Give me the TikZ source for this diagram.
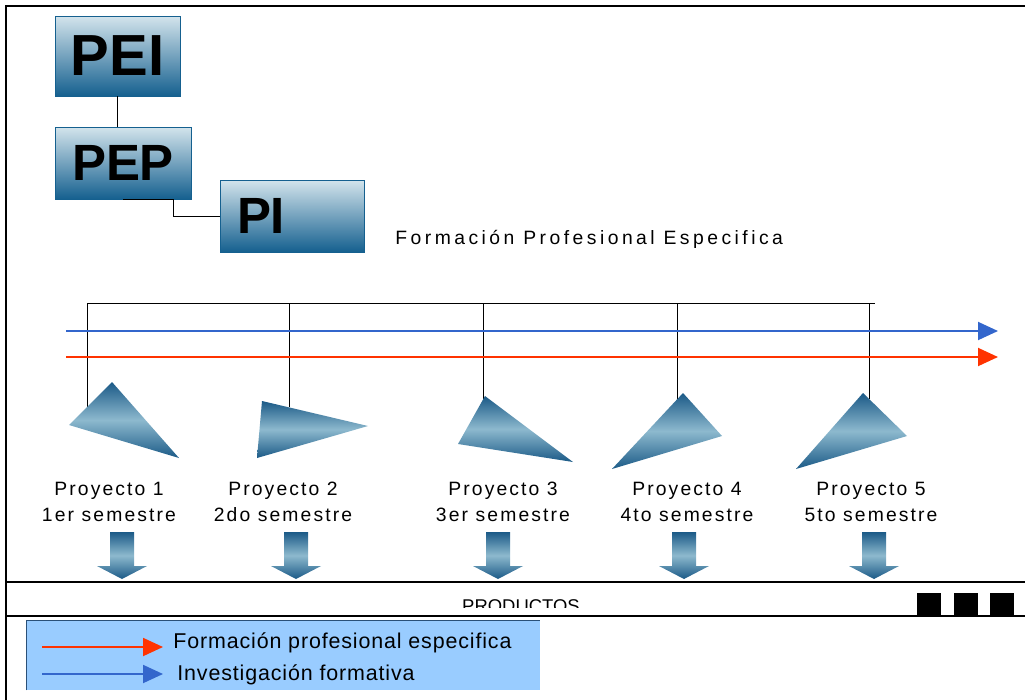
\documentclass[tikz,border=0pt]{standalone}
\usepackage{fontspec}
\setmainfont{Liberation Sans}
\newfontfamily\wideface[LetterSpace=11]{Liberation Sans}
\newfontfamily\headface[LetterSpace=18]{Liberation Sans}
\newfontfamily\legface[LetterSpace=4]{Liberation Sans}
\usetikzlibrary{arrows.meta,positioning}
\definecolor{boxdark}{HTML}{15608F}
\definecolor{boxlight}{HTML}{D3E4EC}
\definecolor{tridark}{HTML}{1B5A87}
\definecolor{trilight}{HTML}{8DB9CE}
\definecolor{blueline}{HTML}{3366CC}
\definecolor{redline}{HTML}{FF3300}
\definecolor{legendfill}{HTML}{99CCFF}
\definecolor{legendedge}{HTML}{2A5078}
\tikzset{
  plan/.style={rectangle, draw=boxdark, line width=0.5pt, top color=boxlight, bottom color=boxdark},
  tri/.style={top color=tridark, bottom color=tridark, middle color=trilight},
  proj/.style={align=center, font=\wideface\fontsize{11}{14.5}\selectfont},
  tline/.style={line width=1.1pt, -{Triangle[length=0.4cm,width=0.36cm]}},
  frame/.style={line width=1.1pt},
}
\begin{document}
\begin{tikzpicture}[x=0.02cm, y=-0.02cm]
\useasboundingbox (0,0) rectangle (1025,700);
\draw[frame] (6,700) -- (6,6) -- (1025,6);
\draw[frame] (6,582) -- (1025,582); \draw[frame] (6,616) -- (1025,616);
% plan boxes
\node[plan, minimum width=2.5cm, minimum height=1.6cm, font=\bfseries\fontsize{33}{33}\selectfont] (PEI) at (117.5,56) {PEI};
\node[plan, minimum width=2.72cm, minimum height=1.44cm, font=\bfseries\fontsize{29}{29}\selectfont] (PEP) at (123,163) {PEP};
\node[plan, minimum height=1.44cm, text width=2.2cm, inner xsep=0.34cm, align=left, font=\bfseries\fontsize{29}{29}\selectfont] (PI) at (292,216) {PI};
\coordinate (bend) at (173,216);
\draw (PEI.south) -- (PEI.south |- PEP.north);
\draw (PEP.south) -- (PEP.south -| bend) -- (bend) -- (PI.west);
\node[anchor=base west, inner sep=0, font=\headface\fontsize{11}{13}\selectfont] (head) at (395,244) {Formación Profesional Especifica};
% tree
\coordinate (barw) at (87,303); \coordinate (bare) at (875,303);
\coordinate (p1) at (87,407); \coordinate (p2) at (289,407); \coordinate (p3) at (483,400);
\coordinate (p4) at (677,400); \coordinate (p5) at (869,399);
\draw (barw) -- (bare);
\foreach \n in {p1,p2,p3,p4,p5} \draw (\n |- barw) -- (\n);
\coordinate (bs) at (66,331); \coordinate (be) at (998,331);
\coordinate (rs) at (66,357); \coordinate (re) at (998,357);
\draw[tline, blueline] (bs) -- (be);
\draw[tline, redline] (rs) -- (re);
\shade[tri] (112,382) -- (69,425) -- (179,458) -- cycle;
\shade[tri] (262,401) -- (368,426) -- (257,458) -- cycle;
\shade[tri] (485,396) -- (458,444) -- (573,462) -- cycle;
\shade[tri] (683,393) -- (722,436) -- (612,469) -- cycle;
\shade[tri] (863,393) -- (907,436) -- (796,469) -- cycle;
\foreach \x/\n/\s in {109/1/1er, 283/2/2do, 503/3/3er, 687/4/4to, 871/5/5to}
  \node[proj] (l\n) at (\x,502) {Proyecto \n\\\s\ semestre};
\foreach \x in {122,296,498,684,874}
  \shade[tri] (\x-12,532) -- (\x+12,532) -- (\x+12,566) -- (\x+25,566) -- (\x,579) -- (\x-25,566) -- (\x-12,566) -- cycle;
% productos
\begin{scope}
\clip (6,584) rectangle (900,607);
\node[anchor=base, inner sep=0, font=\fontsize{10.5}{12}\selectfont] (prod) at (521,612) {PRODUCTOS};
\end{scope}
\foreach \x in {917,954,990} \fill (\x,593) rectangle ++(24,22);
% legend
\node[fill=legendfill, minimum width=10.26cm, minimum height=1.38cm, inner sep=0] (legend) at (283.5,655.5) {};
\draw[legendedge] (legend.south west) -- (legend.north west) -- (legend.north east);
\node[anchor=base west, inner sep=0, font=\legface\fontsize{12.2}{14}\selectfont] (fpe) at (173,648) {Formación profesional especifica};
\node[anchor=base west, inner sep=0, font=\legface\fontsize{12.2}{14}\selectfont] (inv) at (177,680) {Investigación formativa};
\coordinate (r0) at (42,647); \coordinate (b0) at (42,674);
\draw[tline, redline] (r0) -- (163,647);
\draw[tline, blueline] (b0) -- (163,674);
\end{tikzpicture}
\end{document}
